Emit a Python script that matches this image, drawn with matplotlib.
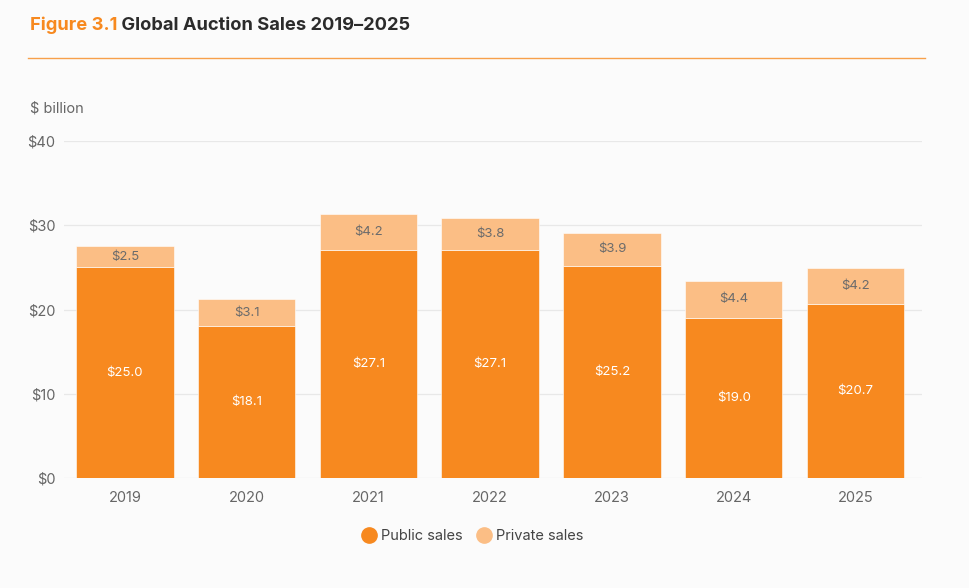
import matplotlib.pyplot as plt
import numpy as np

plt.rcParams['font.family'] = ['Inter', 'DejaVu Sans']

years = ['2019', '2020', '2021', '2022', '2023', '2024', '2025']
public = [25.0, 18.1, 27.1, 27.1, 25.2, 19.0, 20.7]
private = [2.5, 3.1, 4.2, 3.8, 3.9, 4.4, 4.2]
yticks = [0, 10, 20, 30, 40]

c_pub = '#F7891F'
c_priv = '#FBBE85'
bg = '#FBFBFB'

fig = plt.figure(figsize=(9.69, 5.88), dpi=100, facecolor=bg)
ax = fig.add_axes([0.066, 0.187, 0.886, 0.573], facecolor=bg)

x = np.arange(len(years))
ax.bar(x, public, width=0.8, color=c_pub, edgecolor='white', linewidth=0.4, zorder=3)
ax.bar(x, private, bottom=public, width=0.8, color=c_priv, edgecolor='white', linewidth=0.4, zorder=3)

for xi, p, q in zip(x, public, private):
    ax.text(xi, p / 2, f'${p:.1f}', ha='center', va='center', color='white', fontsize=9.5, zorder=4)
    ax.text(xi, p + q / 2, f'${q:.1f}', ha='center', va='center', color='#6b6b6b', fontsize=9.5, zorder=4)

ax.set_ylim(0, 40)
ax.set_xlim(-0.5, 6.55)
ax.set_yticks(yticks)
ax.set_yticklabels([f'${v}' for v in yticks])
ax.set_xticks(x)
ax.set_xticklabels(years)
ax.tick_params(axis='both', length=0, labelsize=10.5, labelcolor='#666666')
ax.tick_params(axis='y', pad=6)
ax.tick_params(axis='x', pad=9)
ax.grid(axis='y', color='#e8e8e8', linewidth=0.9, zorder=0)
for s in ax.spines.values():
    s.set_visible(False)

# title
t1 = fig.text(30 / 969, 1 - 25 / 588, 'Figure 3.1', color=c_pub, fontsize=13.2,
              fontweight='bold', va='center', ha='left')
ax.annotate(' Global Auction Sales 2019\u20132025', xy=(1, 0.5), xycoords=t1,
            va='center', ha='left', color='#2b2b2b', fontsize=13.2, fontweight='bold')
fig.add_artist(plt.Line2D([28 / 969, 925 / 969], [1 - 58 / 588, 1 - 58 / 588],
                          color=c_pub, linewidth=1.0, alpha=0.8))
fig.text(30 / 969, 1 - 108 / 588, '$ billion', color='#666666', fontsize=10.5,
         va='center', ha='left')

# legend
h1 = plt.Line2D([], [], marker='o', linestyle='none', markersize=11, color=c_pub)
h2 = plt.Line2D([], [], marker='o', linestyle='none', markersize=11, color=c_priv)
fig.legend([h1, h2], ['Public sales', 'Private sales'], loc='center',
           bbox_to_anchor=(472 / 969, 1 - 536 / 588), ncol=2, frameon=False,
           fontsize=10.5, labelcolor='#444444', handletextpad=0.2, columnspacing=0.9,
           handlelength=1.2)

fig.savefig('out.png', dpi=100, facecolor=bg)
